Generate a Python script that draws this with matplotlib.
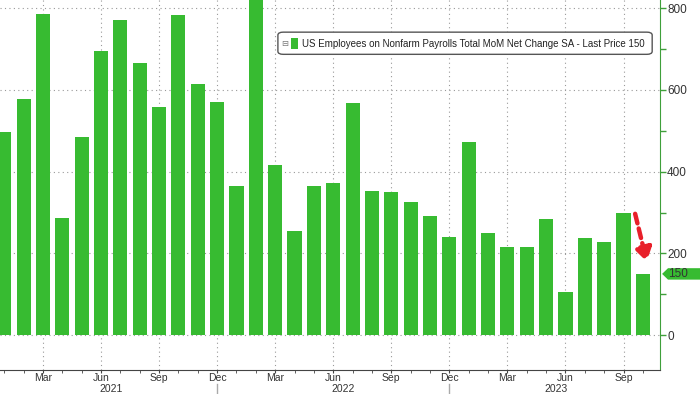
import matplotlib
matplotlib.use('Agg')
import matplotlib.pyplot as plt
import numpy as np
from matplotlib.patches import FancyBboxPatch, Rectangle, Polygon
from matplotlib.transforms import blended_transform_factory

# US nonfarm payrolls, monthly net change (thousands), Jan 2021 - Oct 2023
months = ['Jan', 'Feb', 'Mar', 'Apr', 'May', 'Jun', 'Jul', 'Aug', 'Sep', 'Oct', 'Nov', 'Dec'] * 2 + \
         ['Jan', 'Feb', 'Mar', 'Apr', 'May', 'Jun', 'Jul', 'Aug', 'Sep', 'Oct']
years = [2021] * 12 + [2022] * 12 + [2023] * 10
payrolls = [496, 577, 785, 286, 484, 695, 772, 665, 559, 784, 615, 571,
            365, 904, 416, 255, 365, 372, 569, 354, 351, 326, 292, 240,
            473, 249, 217, 217, 284, 106, 237, 228, 300, 150]
last_price = 150
label = 'US Employees on Nonfarm Payrolls Total MoM Net Change SA - Last Price 150'

plt.rcParams['font.family'] = ['Liberation Sans', 'DejaVu Sans']

green = '#37bb31'
axis_green = '#3f9f3a'
txt = '#333333'

fig = plt.figure(figsize=(7, 3.94), dpi=100)
ax = fig.add_axes([0, 0.062, 0.943, 0.938])

x = np.arange(len(payrolls))
ax.bar(x, payrolls, width=0.73, color=green, zorder=2)

ax.set_xlim(-0.22, 33.89)
ax.set_ylim(-84, 820)

# y axis on the right
ax.yaxis.tick_right()
ax.set_yticks([0, 200, 400, 600, 800])
ax.set_yticks([100, 300, 500, 700], minor=True)
ax.tick_params(axis='y', which='both', colors=axis_green, length=4, width=1, labelcolor=txt,
               labelsize=8.5, pad=1)
for s in ['left', 'top']:
    ax.spines[s].set_visible(False)
ax.spines['right'].set_color(axis_green)
ax.spines['bottom'].set_color('#444444')

# x axis: monthly minor ticks, quarterly labels
quarter = [i for i, m in enumerate(months) if m in ('Mar', 'Jun', 'Sep', 'Dec')]
ax.set_xticks(quarter)
ax.set_xticklabels([months[i] for i in quarter])
ax.set_xticks(x, minor=True)
ax.tick_params(axis='x', which='both', length=2.5, color='#444444', labelsize=7.5, labelcolor=txt, pad=0)

ax.grid(True, which='major', linestyle=(0, (1, 3)), color='#999999', linewidth=0.8, zorder=0)

# year labels and separators
trans = blended_transform_factory(ax.transData, fig.transFigure)
for yr in sorted(set(years)):
    idx = [i for i, y in enumerate(years) if y == yr]
    ax.text(np.mean(idx), 0.0, str(yr), transform=trans, ha='center', va='bottom',
            fontsize=7.5, color=txt, clip_on=False)
    if idx[-1] < len(years) - 1:
        ax.plot([idx[-1], idx[-1]], [0.0, 0.025], transform=trans, color='#aaaaaa',
                lw=1, clip_on=False)

# last price tag on the right axis
tag_tr = blended_transform_factory(ax.transAxes, ax.transData)
tag = Polygon([(1.003, last_price), (1.012, last_price + 14), (1.07, last_price + 14),
               (1.07, last_price - 14), (1.012, last_price - 14)], closed=True,
              transform=tag_tr, facecolor=green, edgecolor='none', clip_on=False)
ax.add_patch(tag)
ax.text(1.012, last_price, str(last_price), transform=tag_tr, va='center', ha='left',
        fontsize=8.5, color=txt, clip_on=False)

# legend box
box = FancyBboxPatch((0.421, 0.853), 0.567, 0.06, boxstyle='round,pad=0,rounding_size=0.008',
                     transform=ax.transAxes, facecolor='white', edgecolor='#555555', lw=1, zorder=5)
ax.add_patch(box)
ax.text(0.432, 0.883, '\u229f', transform=ax.transAxes, ha='center', va='center',
        fontsize=6, color='#777777', family='DejaVu Sans', zorder=6)
ax.add_patch(Rectangle((0.441, 0.868), 0.0105, 0.03, transform=ax.transAxes,
                       facecolor=green, edgecolor='none', zorder=6))
ax.text(0.4576, 0.882, label, transform=ax.transAxes, ha='left', va='center',
        fontsize=7.0, color='#222222', zorder=6)

# red dashed arrow to the last bar
ax.annotate('', xy=(33.2, 180), xytext=(32.6, 297),
            arrowprops=dict(arrowstyle='-|>,head_length=0.8,head_width=0.5', color='#e8202a',
                            lw=3.2, linestyle=(0, (2.2, 1.2)), shrinkA=0, shrinkB=0),
            zorder=4)

fig.savefig('out.png', dpi=100)
